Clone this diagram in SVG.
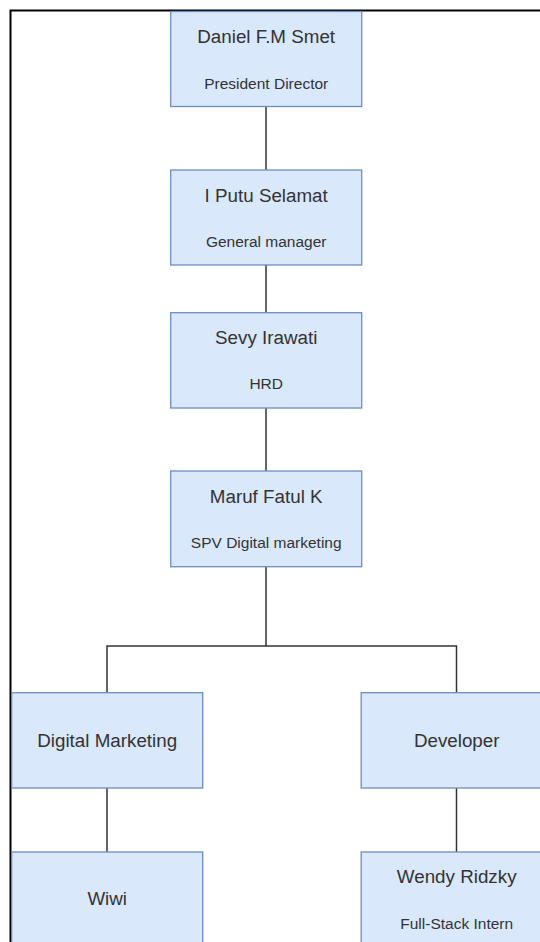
<svg xmlns="http://www.w3.org/2000/svg" width="540" height="942" viewBox="0 0 540 942">
<style>
.box{fill:#dae8fc;stroke:#6c8ebf;stroke-width:1.3}
.name{font-family:"Liberation Sans",Arial,sans-serif;font-size:18.8px;fill:#333;text-anchor:middle;dominant-baseline:central}
.role{font-family:"Liberation Sans",Arial,sans-serif;font-size:15.5px;fill:#333;text-anchor:middle;dominant-baseline:central}
.edge{fill:none;stroke:#333;stroke-width:1.5}
</style>
<rect x="0" y="0" width="540" height="942" fill="#fff"/>
<path d="M10.5 942 V10.5 H540" fill="none" stroke="#000" stroke-width="2"/>
<g id="connectors">
<path class="edge" d="M266 106.5 V170"/>
<path class="edge" d="M266 265 V312.7"/>
<path class="edge" d="M266 408 V471"/>
<path class="edge" d="M266 566.7 V646 H107 V692.7"/>
<path class="edge" d="M266 646 H456.5 V692.7"/>
<path class="edge" d="M107 788 V852"/>
<path class="edge" d="M456.5 788 V852"/>
</g>
<g id="n1"><rect class="box" x="170.7" y="11.5" width="191" height="95"/><text class="name" x="266.2" y="36.8">Daniel F.M Smet</text><text class="role" x="266.2" y="83.2">President Director</text></g>
<g id="n2"><rect class="box" x="170.7" y="170" width="191" height="95"/><text class="name" x="266.2" y="195.3">I Putu Selamat</text><text class="role" x="266.2" y="241.2">General manager</text></g>
<g id="n3"><rect class="box" x="170.7" y="312.7" width="191" height="95.3"/><text class="name" x="266.2" y="337.8">Sevy Irawati</text><text class="role" x="266.2" y="383.7">HRD</text></g>
<g id="n4"><rect class="box" x="170.7" y="471" width="191" height="95.7"/><text class="name" x="266.2" y="496.3">Maruf Fatul K</text><text class="role" x="266.2" y="542.2">SPV Digital marketing</text></g>
<g id="n5"><rect class="box" x="11.7" y="692.7" width="191" height="95.3"/><text class="name" x="107.2" y="740">Digital Marketing</text></g>
<g id="n6"><rect class="box" x="361.2" y="692.7" width="191" height="95.3"/><text class="name" x="456.7" y="740">Developer</text></g>
<g id="n7"><rect class="box" x="11.7" y="852" width="191" height="95"/><text class="name" x="107.2" y="898">Wiwi</text></g>
<g id="n8"><rect class="box" x="361.2" y="852" width="191" height="95"/><text class="name" x="456.7" y="876.8">Wendy Ridzky</text><text class="role" x="456.7" y="923.2">Full-Stack Intern</text></g>
</svg>
